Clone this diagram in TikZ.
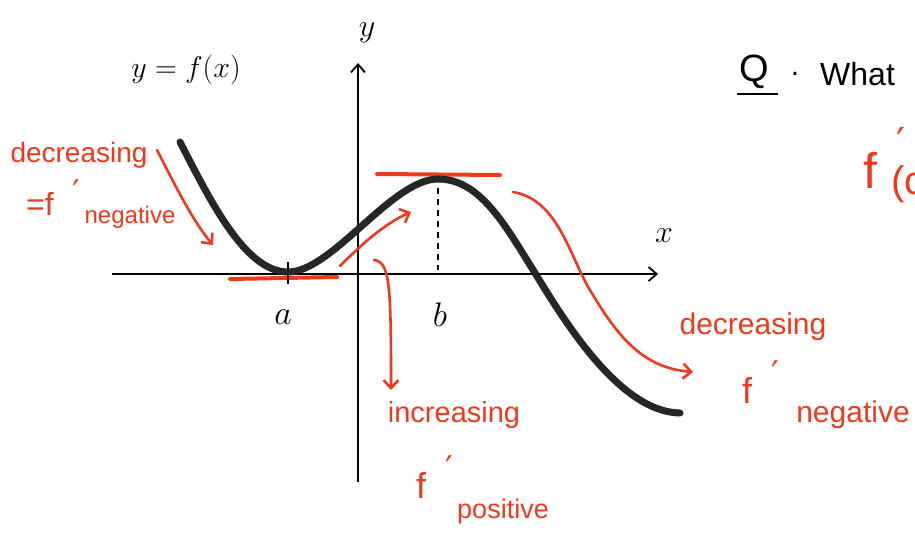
\RequirePackage{fix-cm}
\documentclass[tikz,border=0pt]{standalone}
\usepackage{fontspec}
\setmainfont{Liberation Sans}
\newfontfamily\dvfont{DejaVu Sans}
\usetikzlibrary{arrows.meta}
\definecolor{pen}{RGB}{238,58,28}
\definecolor{ink}{RGB}{38,38,38}
\begin{document}
\begin{tikzpicture}[x=1pt,y=-1pt,
  axis/.style={line width=1.8pt, black},
  axisarrow/.style={axis, -{Straight Barb[length=8pt,width=14pt]}},
  curvestyle/.style={line width=7pt, ink, line cap=round},
  tangent/.style={line width=4pt, pen, line cap=round},
  redarrow/.style={line width=2.6pt, pen, line cap=round, -{Straight Barb[length=8pt,width=15pt]}},
  redtxt/.style={text=pen, inner sep=0pt},
  primetxt/.style={text=pen, inner sep=0pt, anchor=north, font=\dvfont\fontsize{34}{36}\selectfont},
  blacktxt/.style={text=black, inner sep=0pt}]
\clip (0,0) rectangle (915,533);
\fill[white] (0,0) rectangle (915,533);

% axes
\coordinate (ybot) at (358,482);
\coordinate (ytop) at (358,63);
\coordinate (xl) at (112,274);
\coordinate (xr) at (658,274);
\draw[axisarrow] (ybot) -- (ytop);
\draw[axisarrow] (xl) -- (xr);
\node[blacktxt, font=\fontsize{32}{34}\selectfont] (ylab) at (367,33) {$y$};
\node[blacktxt, font=\fontsize{32}{34}\selectfont] (xlab) at (664,236) {$x$};
\node[blacktxt, font=\fontsize{30}{32}\selectfont] (flab) at (186,70) {$y=f(x)$};

% tangents and markers
\coordinate (ta1) at (230,279);
\coordinate (ta2) at (337,277);
\coordinate (tb1) at (377,174);
\coordinate (tb2) at (500,175);
\draw[tangent] (ta1) -- (ta2);
\draw[tangent] (tb1) -- (tb2);
\coordinate (d1) at (438,188);
\coordinate (d2) at (438,270);
\draw[dashed, line width=1.4pt, dash pattern=on 6pt off 5pt] (d1) -- (d2);
\coordinate (k1) at (288,262);
\coordinate (k2) at (288,284);
\draw[line width=1.6pt] (k1) -- (k2);
\node[blacktxt, font=\fontsize{34}{36}\selectfont] (alab) at (283,317) {$a$};
\node[blacktxt, font=\fontsize{34}{36}\selectfont] (blab) at (440,315) {$b$};

% curve
\coordinate (c0) at (180,142);
\coordinate (cmin) at (288,272);
\coordinate (cmax) at (438,179);
\coordinate (cx) at (535,273);
\coordinate (cend) at (680,413);
\draw[curvestyle] (c0) .. controls (210,200) and (245,272) .. (cmin)
  .. controls (332,272) and (392,179) .. (cmax)
  .. controls (480,179) and (505,225) .. (cx)
  .. controls (565,322) and (620,412) .. (cend);

% red arrows
\coordinate (r1s) at (157,150);
\coordinate (r1e) at (213,245);
\draw[redarrow] (r1s) .. controls (175,185) and (192,220) .. (r1e);
\coordinate (r2s) at (340,266);
\coordinate (r2e) at (411,212);
\draw[redarrow] (r2s) .. controls (362,244) and (384,224) .. (r2e);
\coordinate (r3s) at (374,260);
\coordinate (r3e) at (391,390);
\draw[redarrow] (r3s) .. controls (390,262) and (391,285) .. (r3e);
\coordinate (r4s) at (513,192);
\coordinate (r4m) at (593,295);
\coordinate (r4e) at (693,372);
\draw[redarrow] (r4s) .. controls (560,200) and (570,260) .. (r4m)
  .. controls (620,340) and (645,368) .. (r4e);

% red texts left
\node[redtxt, font=\fontsize{28}{30}\selectfont] (dec1) at (79,155) {decreasing};
\node[redtxt, font=\fontsize{32}{34}\selectfont] (eqf1) at (40,204) {=f};
\node[primetxt] (pr1) at (76,180) {′};
\node[redtxt, font=\fontsize{24}{26}\selectfont] (neg1) at (130,217) {negative};

% red texts middle
\node[redtxt, font=\fontsize{29}{31}\selectfont] (inc) at (454,415) {increasing};
\node[redtxt, font=\fontsize{36}{38}\selectfont] (f2) at (421,485) {f};
\node[primetxt] (pr2) at (449,456) {′};
\node[redtxt, font=\fontsize{27}{29}\selectfont] (pos) at (503,512) {positive};

% red texts right
\node[redtxt, font=\fontsize{30}{32}\selectfont] (dec2) at (753,327) {decreasing};
\node[redtxt, font=\fontsize{36}{38}\selectfont] (f3) at (747,390) {f};
\node[primetxt] (pr3) at (775,361) {′};
\node[redtxt, font=\fontsize{30}{32}\selectfont] (neg3) at (853,415) {negative};

% question, top right
\node[blacktxt, font=\fontsize{38}{40}\selectfont] (q) at (754,72) {Q};
\coordinate (u1) at (737,94);
\coordinate (u2) at (778,94);
\draw[line width=1.6pt] (u1) -- (u2);
\node[blacktxt, font=\fontsize{30}{32}\selectfont] (dot) at (795,74) {.};
\node[blacktxt, font=\fontsize{32}{34}\selectfont, anchor=west] (what) at (820,74) {What};
\node[redtxt, font=\fontsize{50}{52}\selectfont] (f4) at (870,170) {f};
\node[primetxt, font=\dvfont\fontsize{40}{42}\selectfont] (pr4) at (901,127) {′};
\node[redtxt, font=\fontsize{40}{42}\selectfont, anchor=west] (pc) at (891,184) {(c};
\end{tikzpicture}
\end{document}
